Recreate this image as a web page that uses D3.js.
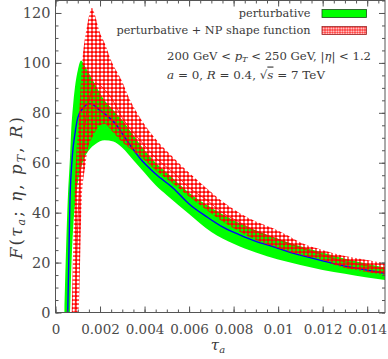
<!DOCTYPE html>
<html>
<head>
<meta charset="utf-8">
<script src="https://cdn.jsdelivr.net/npm/d3@7"></script>
<style>
body { margin: 0; background: #fff; }
svg { display: block; }
.tick text { font-family: "DejaVu Serif", serif; fill: #4a4a4a; }
.lbl { font-family: "DejaVu Serif", serif; fill: #3a3a3a; }
</style>
</head>
<body>
<div id="chart"></div>
<script>
// perturbative band (green)
var tauPert = [0.0004, 0.00055, 0.00065, 0.0007, 0.0008, 0.0009, 0.001, 0.00115, 0.0013, 0.0015, 0.0018, 0.0022,
               0.0026, 0.003, 0.0035, 0.004, 0.0045, 0.005, 0.006, 0.007, 0.008, 0.009, 0.01, 0.011, 0.012, 0.013, 0.014, 0.0148];
var pertHigh = [0, 45, 62, 72, 84, 92, 97, 101, 99, 96, 91, 85, 81, 77, 71, 65, 60, 56, 48, 42, 37, 33, 29.5, 26.5, 24, 21.5, 19.5, 18];
var pertLow  = [0, 0, 0, 15, 35, 45, 52, 58, 62, 65, 67.5, 69, 68.5, 66, 61, 56, 51, 47, 39.5, 32.3, 27.5, 24, 21.2, 19, 17, 15.5, 14, 13];

// perturbative central curve (blue)
var tauCentral = [0.00055, 0.00065, 0.00075, 0.00088, 0.001, 0.0012, 0.00155, 0.002, 0.0027, 0.0032, 0.0038, 0.0045, 0.0053,
                  0.006, 0.0068, 0.0075, 0.0083, 0.009, 0.0098, 0.0105, 0.0113, 0.012, 0.0128, 0.0138, 0.0148];
var pertCentral = [0, 45, 62, 72, 78, 81.5, 83.7, 81, 75.5, 69, 61.7, 55.5, 49.7, 43.5, 38.3, 34.3, 31, 28.5, 26.3, 24.2, 22.3, 20.7, 19, 17.3, 15.7];

// perturbative + NP shape function band (red hatch)
var tauNP = [0.00073, 0.00085, 0.001, 0.00103, 0.00118, 0.00136, 0.0014, 0.00164, 0.0017, 0.002, 0.00222, 0.0025, 0.00297, 0.0033,
             0.0038, 0.0045, 0.0053, 0.006, 0.0068, 0.0075, 0.0083, 0.009, 0.0098, 0.0105, 0.011, 0.012, 0.0128, 0.0138, 0.0148];
var npHigh = [0, 45, 71.7, 75, 98, 112, 114, 122, 121, 112, 107.7, 101, 93, 86, 78, 69.5, 62, 56, 49.7, 44.5, 39.7, 36.5, 33.7, 30.5, 28, 25, 23, 21.3, 19.7];
var npLow  = [0, 0, 0, 0, 45, 60, 63, 70, 71, 75, 75.5, 73, 68.5, 66, 62.5, 57, 51.5, 46.5, 41, 36.5, 32.3, 29, 26.3, 24.3, 23, 21, 18.3, 16.5, 15];

// NP central curve
var tauNPc = [0.00088, 0.001, 0.0012, 0.0014, 0.0016, 0.0018, 0.002, 0.0025, 0.003, 0.0038, 0.0045, 0.0053, 0.006, 0.0068,
              0.0075, 0.0083, 0.009, 0.0098, 0.0105, 0.0113, 0.012, 0.0128, 0.0138, 0.0148];
var npCentral = [0, 35, 65, 80, 88, 92, 91, 86, 78, 69, 62, 56, 50, 45, 40, 36, 32.5, 30, 27.5, 25, 23, 20.7, 19, 17.3];

var xTicks = [0, 0.002, 0.004, 0.006, 0.008, 0.01, 0.012, 0.014];
var yTicks = [0, 20, 40, 60, 80, 100, 120];

var W = 388, H = 359;
var pL = 55.5, pR = 385, pT = 0.5, pB = 312.5;

var svg = d3.select('#chart').append('svg').attr('width', W).attr('height', H);

var x = d3.scaleLinear().domain([0, 0.0148]).range([pL, pR]);
var y = d3.scaleLinear().domain([0, 125]).range([pB, pT]);

var defs = svg.append('defs');
var pat = defs.append('pattern')
    .attr('id', 'xhatch')
    .attr('patternUnits', 'userSpaceOnUse')
    .attr('width', 4).attr('height', 4);
pat.append('path')
    .attr('d', 'M0,0H4V4H0Z M0.45,2 a1.55,1.55 0 1,0 3.1,0 a1.55,1.55 0 1,0 -3.1,0Z')
    .attr('fill', '#ff0000')
    .attr('fill-rule', 'evenodd');

var patSmall = defs.append('pattern')
    .attr('id', 'xhatchSmall')
    .attr('patternUnits', 'userSpaceOnUse')
    .attr('width', 2.5).attr('height', 2.5);
patSmall.append('path')
    .attr('d', 'M0,0H2.5V2.5H0Z M0.35,1.25 a0.9,0.9 0 1,0 1.8,0 a0.9,0.9 0 1,0 -1.8,0Z')
    .attr('fill', '#ff3030')
    .attr('fill-rule', 'evenodd');

defs.append('clipPath').attr('id', 'plotclip')
  .append('rect')
    .attr('x', pL).attr('y', pT)
    .attr('width', pR - pL).attr('height', pB - pT);

function zipBand(t, lo, hi) {
    return t.map(function(d, i) { return {t: d, lo: lo[i], hi: hi[i]}; });
}
function zipLine(t, v) {
    return t.map(function(d, i) { return {t: d, v: v[i]}; });
}

var area = d3.area()
    .x(function(d) { return x(d.t); })
    .y0(function(d) { return y(d.lo); })
    .y1(function(d) { return y(d.hi); })
    .curve(d3.curveMonotoneX);

var line = d3.line()
    .x(function(d) { return x(d.t); })
    .y(function(d) { return y(d.v); })
    .curve(d3.curveMonotoneX);

var plot = svg.append('g').attr('clip-path', 'url(#plotclip)');

plot.append('path')
    .attr('d', area(zipBand(tauPert, pertLow, pertHigh)))
    .attr('fill', '#00ff00');

plot.append('path')
    .attr('d', line(zipLine(tauCentral, pertCentral)))
    .attr('fill', 'none')
    .attr('stroke', '#0000ff')
    .attr('stroke-width', 1.4);

plot.append('path')
    .attr('d', area(zipBand(tauNP, npLow, npHigh)))
    .attr('fill', 'url(#xhatch)');

plot.append('path')
    .attr('d', line(zipLine(tauNPc, npCentral)))
    .attr('fill', 'none')
    .attr('stroke', '#ff0000')
    .attr('stroke-width', 0.8);

// axes, ticks pointing inward on all four sides
var xMinor = d3.range(0, 0.01481, 0.0005);
var yMinor = d3.range(0, 125.1, 5);

function drawAxis(gen, tr, vals, size, fmt, pad) {
    var g = svg.append('g').attr('transform', tr)
        .call(gen.tickValues(vals).tickSize(size).tickSizeOuter(0).tickFormat(fmt).tickPadding(pad));
    g.select('.domain').remove();
    g.selectAll('.tick line').attr('stroke', '#555');
    return g;
}

var none = function() { return ''; };
drawAxis(d3.axisBottom(x), 'translate(0,' + pB + ')', xMinor, -3, none, 0);
drawAxis(d3.axisTop(x), 'translate(0,' + pT + ')', xMinor, -3, none, 0);
drawAxis(d3.axisLeft(y), 'translate(' + pL + ',0)', yMinor, -3, none, 0);
drawAxis(d3.axisRight(y), 'translate(' + pR + ',0)', yMinor, -3, none, 0);

var fmtX = function(d) { return d === 0 ? '0' : String(+d.toFixed(3)); };
var bx = drawAxis(d3.axisBottom(x), 'translate(0,' + pB + ')', xTicks, -6, fmtX, 11.5);
bx.selectAll('text').attr('font-size', 13.5);
drawAxis(d3.axisTop(x), 'translate(0,' + pT + ')', xTicks, -6, none, 0);
var ly = drawAxis(d3.axisLeft(y), 'translate(' + pL + ',0)', yTicks, -6, d3.format('d'), 5);
ly.selectAll('text').attr('font-size', 14.5);
drawAxis(d3.axisRight(y), 'translate(' + pR + ',0)', yTicks, -6, none, 0);

svg.append('rect')
    .attr('x', pL).attr('y', pT)
    .attr('width', pR - pL).attr('height', pB - pT)
    .attr('fill', 'none')
    .attr('stroke', '#555')
    .attr('stroke-width', 1);

// legend
var legend = svg.append('g').attr('class', 'lbl').attr('font-size', 11.3);
legend.append('text')
    .attr('x', 310.5).attr('y', 17).attr('text-anchor', 'end')
    .text('perturbative');
legend.append('text')
    .attr('x', 310.5).attr('y', 34.3).attr('text-anchor', 'end')
    .text('perturbative + NP shape function');
legend.append('rect')
    .attr('x', 322).attr('y', 9.5).attr('width', 44.5).attr('height', 8)
    .attr('fill', '#00ff00').attr('stroke', '#1a4d1a').attr('stroke-width', 0.8);
legend.append('rect')
    .attr('x', 322).attr('y', 26.5).attr('width', 44.5).attr('height', 8)
    .attr('fill', 'url(#xhatchSmall)').attr('stroke', '#992222').attr('stroke-width', 0.8);

// kinematics
var info = svg.append('g').attr('class', 'lbl').attr('font-size', 11.5);
var t1 = info.append('text').attr('x', 167).attr('y', 59.5)
    .attr('textLength', 204).attr('lengthAdjust', 'spacingAndGlyphs');
t1.append('tspan').text('200 GeV < ');
t1.append('tspan').attr('font-style', 'italic').text('p');
t1.append('tspan').attr('font-style', 'italic').attr('font-size', 8).attr('dy', 2).text('T');
t1.append('tspan').attr('dy', -2).text(' < 250 GeV, |');
t1.append('tspan').attr('font-style', 'italic').text('η');
t1.append('tspan').text('| < 1.2');

var t2 = info.append('text').attr('x', 167).attr('y', 78.5)
    .attr('textLength', 158).attr('lengthAdjust', 'spacingAndGlyphs');
t2.append('tspan').attr('font-style', 'italic').text('a');
t2.append('tspan').text(' = 0, ');
t2.append('tspan').attr('font-style', 'italic').text('R');
t2.append('tspan').text(' = 0.4, √');
t2.append('tspan').attr('font-style', 'italic').attr('text-decoration', 'overline').text('s');
t2.append('tspan').text(' = 7 TeV');

// axis titles
var xl = svg.append('text').attr('class', 'lbl').attr('font-size', 15)
    .attr('x', 218).attr('y', 350).attr('text-anchor', 'middle');
xl.append('tspan').attr('font-style', 'italic').text('τ');
xl.append('tspan').attr('font-style', 'italic').attr('font-size', 10).attr('dy', 3).text('a');

var yl = svg.append('text').attr('class', 'lbl').attr('font-size', 16.5)
    .attr('transform', 'translate(22,188) rotate(-90)')
    .attr('text-anchor', 'middle')
    .attr('textLength', 142).attr('lengthAdjust', 'spacing');
yl.append('tspan').attr('font-style', 'italic').text('F');
yl.append('tspan').text('(');
yl.append('tspan').attr('font-style', 'italic').text('τ');
yl.append('tspan').attr('font-style', 'italic').attr('font-size', 11).attr('dy', 3).text('a');
yl.append('tspan').attr('dy', -3).text('; ');
yl.append('tspan').attr('font-style', 'italic').text('η');
yl.append('tspan').text(', ');
yl.append('tspan').attr('font-style', 'italic').text('p');
yl.append('tspan').attr('font-style', 'italic').attr('font-size', 11).attr('dy', 3).text('T');
yl.append('tspan').attr('dy', -3).text(', ');
yl.append('tspan').attr('font-style', 'italic').text('R');
yl.append('tspan').text(')');
</script>
</body>
</html>
